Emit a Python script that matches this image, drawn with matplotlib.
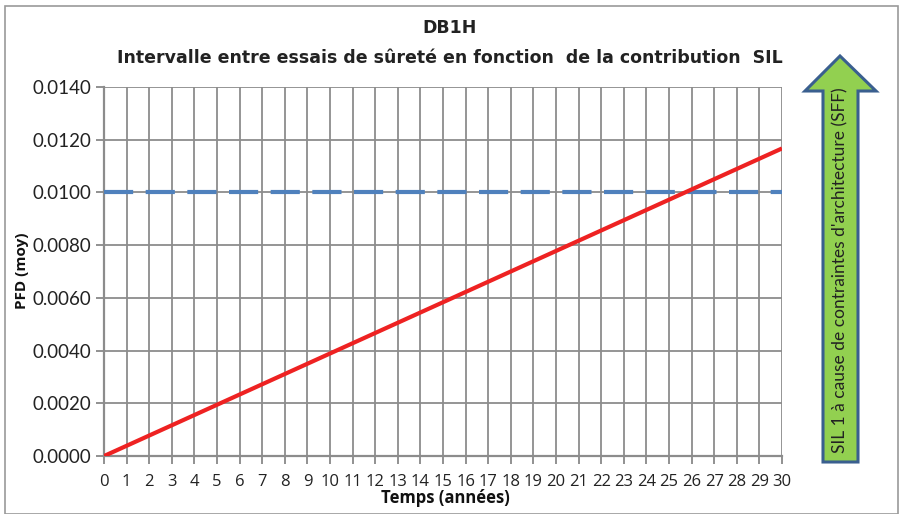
import matplotlib.pyplot as plt
from matplotlib.patches import Rectangle, Polygon

# data
years = [0, 30]
pfd_moy = [0.0, 0.01167]
sil_limit = 0.0100
x_ticks = list(range(0, 31))
y_ticks = [0.0, 0.002, 0.004, 0.006, 0.008, 0.010, 0.012, 0.014]

fig = plt.figure(figsize=(9, 5.14), dpi=100)
ax = fig.add_axes([0.1156, 0.1128, 0.7533, 0.7179])

ax.plot([0, 30], [sil_limit, sil_limit], color="#4F81BD", lw=3, ls=(0, (7, 3)), zorder=3)
ax.plot(years, pfd_moy, color="#EE2222", lw=3, zorder=4, solid_capstyle="butt")

ax.set_xlim(0, 30)
ax.set_ylim(0, 0.014)
ax.set_xticks(x_ticks)
ax.set_yticks(y_ticks)
ax.set_yticklabels([f"{v:.4f}" for v in y_ticks], family="Lato", fontsize=13.5, color="#222222")
ax.set_xticklabels([str(v) for v in x_ticks], family="Open Sans", fontsize=12, color="#222222")
ax.tick_params(axis="both", direction="out", length=6, width=1.3, color="#888888", pad=3)
ax.tick_params(axis="x", pad=7)

ax.grid(True, color="#8c8c8c", lw=1.3)
ax.set_axisbelow(True)
for side in ["top", "right"]:
    ax.spines[side].set_visible(False)
for side in ["left", "bottom"]:
    ax.spines[side].set_color("#8c8c8c")
    ax.spines[side].set_linewidth(1.6)

fig.text(22 / 900, 1 - 271 / 514, "PFD (moy)", rotation=90, ha="center", va="center",
         family="Open Sans", fontweight="bold", fontsize=11, color="#111111")
fig.text(445 / 900, 1 - 498 / 514, "Temps (années)", ha="center", va="center",
         family="Open Sans", fontweight="bold", fontsize=12, color="#111111")

fig.text(0.5, 0.945, "DB1H", ha="center", va="center", family="DejaVu Sans",
         fontweight="bold", fontsize=12.5, color="#222222")
fig.text(0.5, 0.888, "Intervalle entre essais de sûreté en fonction  de la contribution  SIL",
         ha="center", va="center", family="DejaVu Sans", fontweight="bold", fontsize=12.5,
         color="#222222")

# outer frame
fig.patches.append(Rectangle((0.006, 0.0), 0.992, 0.988, transform=fig.transFigure,
                             fill=False, edgecolor="#9a9a9a", lw=1.2))

# green arrow (pixel coords converted to figure fractions)
W, H = 900, 514
pts = [(823, 462), (858, 462), (858, 91), (876, 91), (840, 56), (805, 91), (823, 91)]
arrow = Polygon([(x / W, 1 - y / H) for x, y in pts], closed=True, transform=fig.transFigure,
                facecolor="#92D050", edgecolor="#3A5F8F", lw=2.2)
fig.patches.append(arrow)
fig.text(840.5 / W, 1 - 270 / H, "SIL 1 à cause de contraintes d'architecture (SFF)",
         rotation=90, ha="center", va="center", family="Lato", fontsize=12.5, color="#222222")

fig.savefig("out.png", dpi=100)
